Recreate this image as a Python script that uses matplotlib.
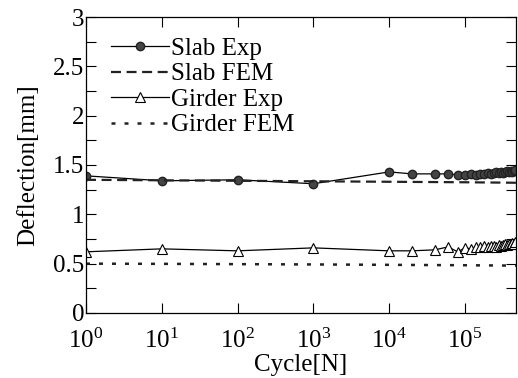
import matplotlib
matplotlib.use("Agg")
import matplotlib.pyplot as plt
from matplotlib.ticker import MultipleLocator, FormatStrFormatter, LogLocator, NullLocator

plt.rcParams['font.family'] = ['Liberation Serif', 'DejaVu Serif']
plt.rcParams['mathtext.fontset'] = 'custom'
plt.rcParams['mathtext.rm'] = 'Liberation Serif'
plt.rcParams['mathtext.it'] = 'Liberation Serif:italic'

slab_exp_x = [1, 10, 100, 1000, 1e4, 2e4, 4e4, 6e4, 8e4, 1e5, 1.2e5, 1.4e5, 1.6e5, 1.8e5,
              2.0e5, 2.2e5, 2.4e5, 2.6e5, 2.8e5, 3.0e5, 3.2e5, 3.4e5, 3.6e5, 3.8e5,
              4.0e5, 4.2e5, 4.4e5, 4.6e5]
slab_exp_y = [1.39, 1.34, 1.35, 1.31, 1.43, 1.41, 1.41, 1.41, 1.40, 1.40, 1.41, 1.40, 1.41, 1.41,
              1.42, 1.41, 1.42, 1.43, 1.42, 1.43, 1.42, 1.43, 1.44, 1.43, 1.44, 1.43, 1.44, 1.45]

slab_fem_x = [1, 10, 100, 1000, 1e4, 1e5, 4.7e5]
slab_fem_y = [1.35, 1.345, 1.34, 1.335, 1.33, 1.325, 1.32]

girder_exp_x = [1, 10, 100, 1000, 1e4, 2e4, 4e4, 6e4, 8e4, 1e5, 1.2e5, 1.4e5, 1.6e5, 1.8e5,
                2.0e5, 2.2e5, 2.4e5, 2.6e5, 2.8e5, 3.0e5, 3.2e5, 3.4e5, 3.6e5, 3.8e5,
                4.0e5, 4.2e5, 4.4e5, 4.6e5]
girder_exp_y = [0.62, 0.65, 0.63, 0.66, 0.63, 0.63, 0.64, 0.67, 0.62, 0.66, 0.65, 0.67, 0.67, 0.68,
                0.67, 0.68, 0.68, 0.67, 0.69, 0.68, 0.69, 0.70, 0.69, 0.70, 0.70, 0.71, 0.70, 0.72]

girder_fem_x = [1, 10, 100, 1000, 1e4, 1e5, 4.7e5]
girder_fem_y = [0.50, 0.498, 0.495, 0.492, 0.488, 0.484, 0.48]

fig = plt.figure(figsize=(5.18, 3.78), dpi=100)
ax = fig.add_axes([0.166, 0.172, 0.830, 0.783])

ax.plot(slab_exp_x, slab_exp_y, '-', color='black', lw=0.9, marker='o', markersize=6,
        markerfacecolor='#444444', markeredgecolor='#222222', label='Slab Exp')
ax.plot(slab_fem_x, slab_fem_y, color='#222222', lw=1.6, dashes=(4.5, 2.5), label='Slab FEM')
ax.plot(girder_exp_x, girder_exp_y, '-', color='black', lw=0.9, marker='^', markersize=7,
        markerfacecolor='white', markeredgecolor='black', markeredgewidth=0.8, label='Girder Exp')
ax.plot(girder_fem_x, girder_fem_y, color='#222222', lw=1.8, dashes=(1.6, 3.6), label='Girder FEM')

ax.set_xscale('log')
ax.set_xlim(1, 4.7e5)
ax.set_ylim(0, 3)
ax.xaxis.set_major_locator(LogLocator(base=10, numticks=10))
ax.xaxis.set_minor_locator(NullLocator())
ax.yaxis.set_major_locator(MultipleLocator(0.5))
ax.yaxis.set_minor_locator(MultipleLocator(0.25))
ax.yaxis.set_major_formatter(FormatStrFormatter('%g'))

ax.tick_params(which='both', direction='in', top=True, right=True, length=7, width=0.8,
               labelsize=18)
ax.tick_params(axis='y', pad=1)
ax.tick_params(axis='x', pad=11)
for s in ax.spines.values():
    s.set_linewidth(0.9)

ax.set_xlabel('Cycle[N]', fontsize=18, labelpad=1)
ax.set_ylabel('Deflection[mm]', fontsize=18, labelpad=10)

leg = ax.legend(loc='upper left', frameon=False, fontsize=18, handlelength=2.3,
                handletextpad=0.1, labelspacing=0.12, borderaxespad=0.0,
                bbox_to_anchor=(0.035, 0.965))

fig.savefig('out.png', dpi=100)
